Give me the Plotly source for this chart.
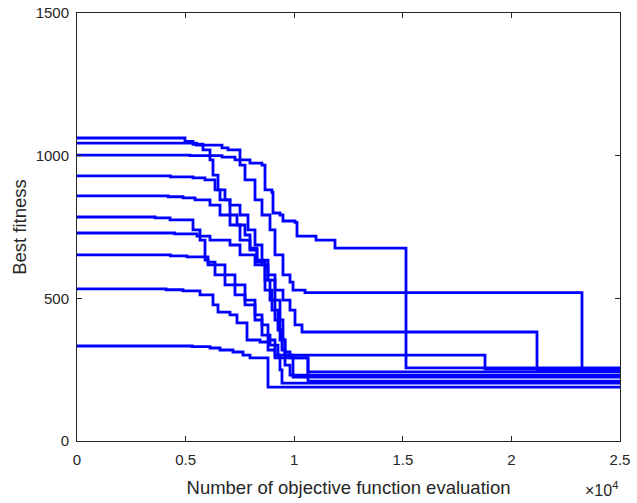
import plotly.graph_objects as go

# Best-fitness histories of ten independent runs (evaluations, best fitness)
evals_1 = [0, 5200, 6676, 7274, 7965, 8517, 8656, 8978, 9024, 9346, 9484, 10037, 10129, 11004, 11878, 15147, 25000]
fitness_1 = [1002, 1000, 995, 985, 974, 967, 880, 871, 799, 792, 771, 766, 718, 704, 676, 256, 256]

evals_2 = [0, 5500, 6676, 6952, 7505, 7735, 8195, 8517, 8886, 9116, 9484, 9807, 9945, 10497, 23250, 25000]
fitness_2 = [1044, 1037, 1027, 1020, 967, 915, 845, 792, 740, 652, 582, 557, 529, 520, 250, 250]

evals_3 = [0, 4972, 5341, 5801, 6123, 6261, 6492, 6814, 7044, 7366, 7735, 7965, 8287, 8517, 8794, 9116, 9484,
           9807, 10037, 10359, 21179, 25000]
fitness_3 = [1062, 1050, 1040, 1020, 985, 932, 880, 845, 792, 757, 722, 676, 634, 617, 564, 529, 494, 459, 407,
             382, 248, 248]

evals_4 = [0, 4300, 5341, 5893, 6354, 6584, 7044, 7505, 7873, 8195, 8517, 8794, 9116, 9346, 9484, 9576, 18785, 25000]
fitness_4 = [929, 926, 922, 915, 880, 845, 827, 792, 740, 687, 634, 582, 494, 424, 354, 301, 252, 252]

evals_5 = [0, 4200, 4880, 5433, 6123, 6584, 7044, 7505, 7965, 8287, 8656, 8886, 9116, 9346, 9576, 9807, 10635, 25000]
fitness_5 = [859, 856, 852, 845, 827, 792, 757, 704, 669, 627, 564, 494, 424, 354, 312, 291, 242, 242]

evals_6 = [0, 3600, 4282, 5341, 5663, 5893, 6031, 6354, 6814, 7274, 7735, 8195, 8517, 8886, 9254, 9945, 25000]
fitness_6 = [785, 782, 775, 740, 704, 634, 617, 582, 547, 512, 477, 424, 371, 336, 301, 224, 224]

evals_7 = [0, 4500, 5525, 6123, 7044, 7505, 8195, 8656, 8978, 9254, 9438, 9576, 9807, 25000]
fitness_7 = [729, 726, 718, 704, 687, 652, 617, 529, 459, 389, 319, 266, 231, 231]

evals_8 = [0, 4300, 5064, 6031, 6354, 6814, 7274, 7735, 8195, 8517, 8794, 9116, 9346, 9438, 25000]
fitness_8 = [652, 649, 645, 627, 617, 582, 547, 494, 442, 407, 354, 301, 249, 203, 203]

evals_9 = [0, 4100, 4880, 5663, 6261, 6492, 7044, 7366, 7827, 8425, 8794, 9116, 10635, 25000]
fitness_9 = [533, 530, 526, 512, 477, 452, 442, 414, 354, 347, 319, 291, 210, 210]

evals_10 = [0, 5300, 6123, 6584, 7182, 7643, 7965, 8794, 25000]
fitness_10 = [333, 331, 326, 319, 312, 301, 291, 189, 189]

runs = [
    (evals_1, fitness_1), (evals_2, fitness_2), (evals_3, fitness_3), (evals_4, fitness_4),
    (evals_5, fitness_5), (evals_6, fitness_6), (evals_7, fitness_7), (evals_8, fitness_8),
    (evals_9, fitness_9), (evals_10, fitness_10),
]

x_tick_vals = [0, 5000, 10000, 15000, 20000, 25000]
x_tick_text = ["0", "0.5", "1", "1.5", "2", "2.5"]
y_tick_vals = [0, 500, 1000, 1500]

fig = go.Figure()
for ev, fit in runs:
    fig.add_trace(go.Scatter(
        x=ev, y=fit, mode="lines", line_shape="hv",
        line=dict(color="#0000FF", width=2.8), showlegend=False,
    ))

font_family = "Liberation Sans, Arial, sans-serif"
ink = "#262626"
axis_common = dict(
    showline=True, mirror="ticks", linecolor=ink, linewidth=1,
    ticks="inside", ticklen=5, tickcolor=ink, tickwidth=1,
    showgrid=False, zeroline=False, automargin=False,
    tickfont=dict(family=font_family, size=15, color=ink),
)

fig.update_layout(
    width=637, height=503,
    margin=dict(l=77, r=17, t=13, b=62),
    plot_bgcolor="white", paper_bgcolor="white",
    xaxis=dict(
        range=[0, 25000], tickvals=x_tick_vals, ticktext=x_tick_text,
        ticklabelstandoff=5,
        title=dict(text="Number of objective function evaluation",
                   font=dict(family=font_family, size=18.5, color=ink), standoff=14),
        **axis_common,
    ),
    yaxis=dict(
        range=[0, 1500], tickvals=y_tick_vals,
        ticklabelstandoff=4,
        title=dict(text="Best fitness",
                   font=dict(family=font_family, size=18.5, color=ink), standoff=4),
        **axis_common,
    ),
    annotations=[dict(
        text="×10<sup>4</sup>", xref="paper", yref="paper", x=1.0, y=-0.085,
        xanchor="right", yanchor="top", showarrow=False,
        font=dict(family=font_family, size=16, color=ink),
    )],
)

fig.write_html("out.html")
